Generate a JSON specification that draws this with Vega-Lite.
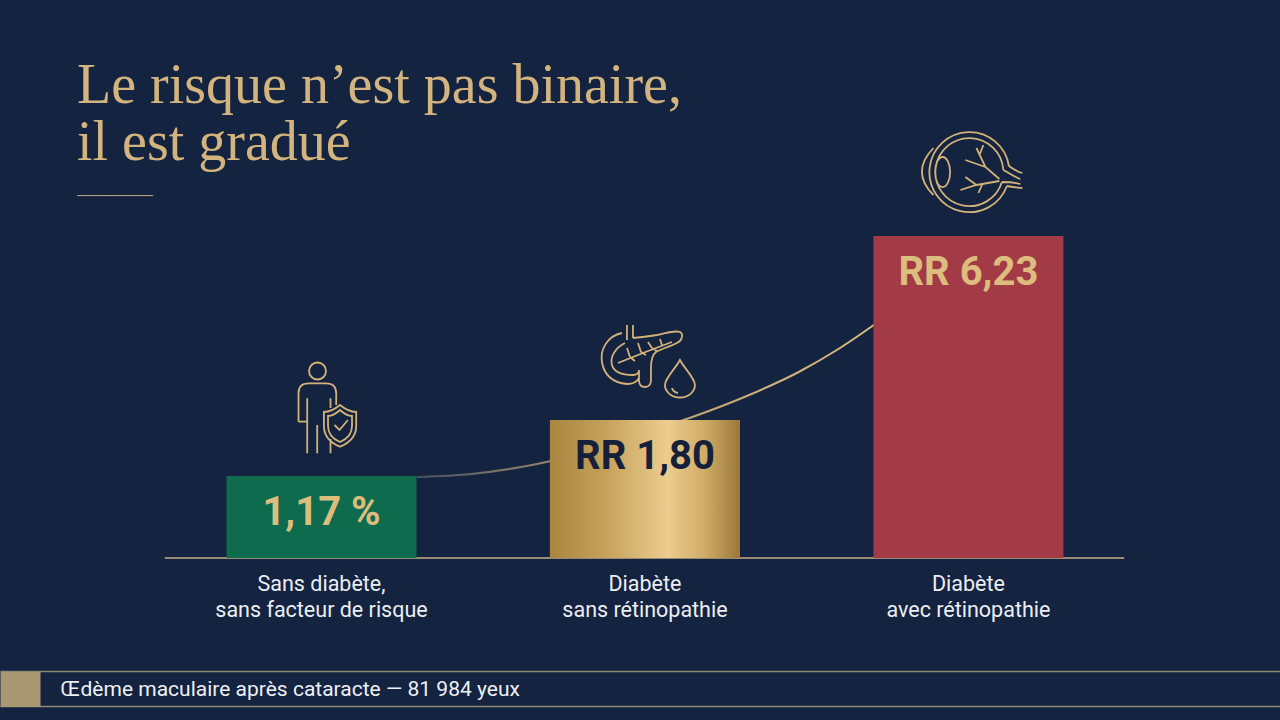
{
  "$schema": "https://vega.github.io/schema/vega-lite/v6.json",
  "width": 1280,
  "height": 720,
  "autosize": {"type": "none"},
  "padding": 0,
  "background": "#142340",
  "config": {"view": {"stroke": null}},
  "title": {
    "text": ["Le risque n’est pas binaire,", "il est gradué"],
    "subtitle": "──────────",
    "orient": "top",
    "anchor": "start",
    "frame": "group",
    "offset": 0,
    "dx": 77,
    "dy": 204,
    "font": "Liberation Serif",
    "fontSize": 56,
    "fontWeight": "normal",
    "lineHeight": 57,
    "color": "#d3b47e",
    "subtitleFont": "DejaVu Sans Mono",
    "subtitleFontSize": 12.6,
    "subtitleColor": "#b3a07b",
    "subtitlePadding": 18
  },
  "datasets": {
    "barres": [
      {"rang": 1, "categorie": "Sans diabète,\nsans facteur de risque", "hauteur": 82, "etiquette": "1,17 %", "icone": "personne"},
      {"rang": 2, "categorie": "Diabète\nsans rétinopathie", "hauteur": 138, "etiquette": "RR 1,80", "icone": "pancreas"},
      {"rang": 3, "categorie": "Diabète\navec rétinopathie", "hauteur": 322, "etiquette": "RR 6,23", "icone": "oeil"}
    ],
    "courbe": [
      {"rang": 1.2945, "hauteur": 81},
      {"rang": 1.4632, "hauteur": 84},
      {"rang": 1.6166, "hauteur": 91},
      {"rang": 1.7086, "hauteur": 97},
      {"rang": 1.9233, "hauteur": 118},
      {"rang": 2.138, "hauteur": 140},
      {"rang": 2.3221, "hauteur": 163},
      {"rang": 2.4755, "hauteur": 186},
      {"rang": 2.5982, "hauteur": 209},
      {"rang": 2.7209, "hauteur": 236}
    ]
  },
  "encoding": {
    "x": {
      "field": "rang",
      "type": "quantitative",
      "scale": {"domain": [0.02147, 3.94785], "nice": false, "zero": false},
      "axis": {
        "orient": "bottom",
        "offset": -162,
        "labels": false,
        "ticks": false,
        "grid": false,
        "domain": false,
        "title": "Œdème maculaire après cataracte — 81 984 yeux",
        "titleX": 60,
        "titleY": 131,
        "titleAlign": "left",
        "titleBaseline": "middle",
        "titleFont": "Roboto",
        "titleFontSize": 21,
        "titleFontWeight": "normal",
        "titleColor": "#eef0f5"
      }
    },
    "y": {
      "field": "hauteur",
      "type": "quantitative",
      "scale": {"domain": [-162, 558], "nice": false},
      "axis": {
        "orient": "left",
        "offset": -40,
        "values": [-113, -130.5, -148],
        "labels": false,
        "domain": false,
        "title": null,
        "ticks": true,
        "tickSize": 40,
        "tickWidth": 35,
        "tickCap": "butt",
        "tickColor": "#a99872",
        "tickOpacity": {"condition": {"test": "datum.value === -130.5", "value": 1}, "value": 0},
        "grid": true,
        "gridColor": "#8f8a78",
        "gridWidth": 1.5,
        "gridOpacity": {"condition": {"test": "datum.value === -130.5", "value": 0}, "value": 1}
      }
    }
  },
  "layer": [
    {
      "data": {"name": "courbe"},
      "mark": {
        "type": "line",
        "interpolate": "monotone",
        "strokeWidth": 2,
        "stroke": {
          "gradient": "linear", "x1": 0, "x2": 1, "y1": 0, "y2": 0,
          "stops": [
            {"offset": 0, "color": "#4a5266"},
            {"offset": 0.4, "color": "#b39a6c"},
            {"offset": 1, "color": "#dcbc80"}
          ]
        }
      },
      "encoding": {}
    },
    {
      "data": {"name": "barres"},
      "transform": [{"filter": "datum.rang === 1"}],
      "mark": {"type": "rule", "color": "#c4b189", "strokeWidth": 1.6},
      "encoding": {
        "x": {"datum": 0.5153},
        "x2": {"datum": 3.4816},
        "y": {"datum": 0}
      }
    },
    {
      "data": {"name": "barres"},
      "mark": {"type": "bar", "width": 190},
      "encoding": {
        "y2": {"datum": 0},
        "color": {
          "field": "categorie",
          "type": "nominal",
          "scale": {
            "domain": ["Sans diabète,\nsans facteur de risque", "Diabète\nsans rétinopathie", "Diabète\navec rétinopathie"],
            "range": ["#0e6b4d", "#c8a35e", "#a33b47"]
          },
          "legend": null
        }
      }
    },
    {
      "data": {"name": "barres"},
      "transform": [{"filter": "datum.rang === 2"}],
      "mark": {
        "type": "bar",
        "width": 190,
        "fill": {
          "gradient": "linear", "x1": 0, "x2": 1, "y1": 0, "y2": 0,
          "stops": [
            {"offset": 0, "color": "#a9853f"},
            {"offset": 0.3, "color": "#c7a25c"},
            {"offset": 0.62, "color": "#ebcd8f"},
            {"offset": 0.82, "color": "#cfaa66"},
            {"offset": 1, "color": "#9b783a"}
          ]
        }
      },
      "encoding": {"y2": {"datum": 0}}
    },
    {
      "data": {"name": "barres"},
      "mark": {"type": "text", "dy": 37, "baseline": "middle", "align": "center", "font": "Roboto", "fontSize": 40, "fontWeight": "bold"},
      "encoding": {
        "text": {"field": "etiquette"},
        "color": {"condition": {"test": "datum.rang === 2", "value": "#15213a"}, "value": "#dcbd7e"}
      }
    },
    {
      "data": {"name": "barres"},
      "mark": {"type": "text", "dy": 33, "baseline": "alphabetic", "align": "center", "font": "Roboto", "fontSize": 21.5, "lineHeight": 25.5, "lineBreak": "\n", "color": "#eceef3"},
      "encoding": {
        "y": {"datum": 0},
        "text": {"field": "categorie"}
      }
    },
    {
      "data": {"name": "barres"},
      "mark": {"type": "point", "filled": false, "size": 10000, "yOffset": -60, "stroke": "#d2b27a", "strokeWidth": 1.8, "opacity": 1},
      "encoding": {
        "shape": {
          "field": "icone",
          "type": "nominal",
          "legend": null,
          "scale": {
            "domain": ["personne", "pancreas", "oeil"],
            "range": [
              "M -0.25 -0.9 A 0.17 0.17 0 1 0 0.09 -0.9 A 0.17 0.17 0 1 0 -0.25 -0.9 Z M -0.46 0.114 L -0.46 -0.454 Q -0.46 -0.654 -0.26 -0.654 L 0.094 -0.654 Q 0.294 -0.654 0.294 -0.454 L 0.294 -0.22 M -0.46 0.114 L -0.286 0.114 M -0.286 -0.354 L -0.286 0.746 M -0.086 0.18 L -0.086 0.746 M 0.18 -0.354 L 0.18 -0.16 M 0.18 0.46 L 0.18 0.746 M 0.37 -0.22 Q 0.2 -0.08 0.048 -0.08 L 0.048 0.2 Q 0.048 0.48 0.37 0.614 Q 0.694 0.48 0.694 0.2 L 0.694 -0.08 Q 0.54 -0.08 0.37 -0.22 Z M 0.37 -0.12 Q 0.24 0 0.13 0 L 0.13 0.2 Q 0.13 0.42 0.37 0.52 Q 0.61 0.42 0.61 0.2 L 0.61 0 Q 0.5 0 0.37 -0.12 Z M 0.26 0.18 L 0.36 0.28 L 0.528 0.08",
              "M -0.46 -0.54 C -0.76 -0.48 -0.9 -0.2 -0.86 0.04 C -0.82 0.3 -0.64 0.46 -0.36 0.48 C -0.24 0.48 -0.16 0.44 -0.12 0.36 M -0.12 0.2 L -0.12 0.4 Q -0.12 0.54 0 0.54 Q 0.12 0.54 0.12 0.4 L 0.12 0.16 M -0.4 -0.34 C -0.6 -0.24 -0.7 -0.06 -0.66 0.1 C -0.62 0.24 -0.48 0.3 -0.24 0.3 C -0.16 0.3 -0.12 0.26 -0.12 0.2 M -0.24 -0.44 C -0.04 -0.46 0.12 -0.48 0.24 -0.5 C 0.44 -0.54 0.6 -0.6 0.7 -0.56 C 0.78 -0.52 0.74 -0.38 0.64 -0.34 C 0.48 -0.26 0.32 -0.22 0.22 -0.16 C 0.14 -0.1 0.12 0 0.12 0.16 M -0.36 -0.7 L -0.36 -0.4 M -0.24 -0.7 L -0.24 -0.44 M -0.54 0.06 C -0.2 -0.08 0.16 -0.22 0.54 -0.36 M -0.3 -0.06 L -0.36 -0.24 M -0.08 -0.16 L -0.14 -0.34 M 0.14 -0.24 L 0.06 -0.36 M 0.34 -0.3 L 0.3 -0.42 M -0.3 -0.06 L -0.2 0.02 M -0.08 -0.16 L 0.02 -0.1 M 0.14 -0.24 L 0.24 -0.18 M 0.7 0 C 0.62 0.16 0.4 0.36 0.4 0.5 A 0.3 0.25 0 0 0 1 0.5 C 1 0.36 0.78 0.16 0.7 0 Z M 0.54 0.56 Q 0.56 0.64 0.66 0.66",
              "M 0.81 -0.2 A 0.8 0.8 0 1 0 0.77 0.2 M 0.698 -0.12 A 0.68 0.68 0 1 0 0.67 0.12 M 0.81 -0.2 C 0.92 -0.12 1 -0.08 1.08 -0.06 M 0.77 0.2 C 0.88 0.22 1 0.24 1.08 0.24 M 0.698 -0.12 C 0.84 -0.04 0.96 0.04 1.04 0.06 M 0.67 0.12 C 0.84 0.12 0.96 0.14 1.04 0.16 M -0.7 -0.56 Q -1.16 -0.08 -0.7 0.38 M -0.666 -0.08 A 0.15 0.3 0 1 0 -0.366 -0.08 A 0.15 0.3 0 1 0 -0.666 -0.08 Z M 0.62 0.06 L 0.34 -0.18 L 0.16 -0.56 M 0.34 -0.18 L -0.06 -0.32 M 0.22 -0.42 L 0.3 -0.62 M 0.62 0.1 L 0.16 0.18 L -0.16 0.28 M 0.16 0.18 L -0.06 0.02 M 0.28 0.16 L 0.2 0.34"
            ]
          }
        }
      }
    }
  ]
}
